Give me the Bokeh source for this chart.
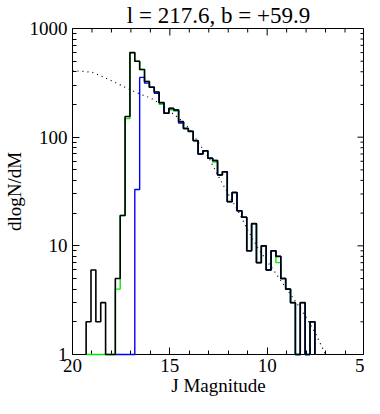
import numpy as np
from bokeh.plotting import figure
from bokeh.models import Range1d, FixedTicker, PrintfTickFormatter, Title
from bokeh.embed import file_html
from bokeh.resources import INLINE

# ---- data ----
title_text = "l = 217.6, b = +59.9"
x_label = "J Magnitude"
y_label = "dlogN/dM"
x_ticks = [20, 15, 10, 5]
y_ticks = [1, 10, 100, 1000]

bin_faint_edge = 19.30
bin_width = 0.25

# black histogram (all sources), faint -> bright
black_counts = [2, 6, 2, 3, 0, 0, 5, 19, 155, 600, 500, 420, 325, 288, 260, 208,
                166, 184, 178, 139, 120, 113, 93, 70, 75, 64, 61, 45, 48, 25.5, 31,
                21, 18.3, 9, 16, 7, 10, 6, 9, 8, 5, 4, 3, 0, 3, 0, 2]
# blue histogram, starts at bin index 6
blue_start = 6
blue_counts = [0, 0, 0, 0, 33, 355, 314, 288, 253, 208, 166, 184, 178, 135, 120,
               113, 93, 70, 75, 64, 61, 45, 48, 25.5, 31, 21, 18.3, 9, 16, 7, 10,
               6, 9, 8, 5, 4, 3, 0, 3, 0, 2]
# green histogram
green_counts = [0, 0, 0, 0, 0, 0, 4, 19, 148, 600, 500, 420, 325, 288, 260, 201,
                166, 179, 174, 139, 120, 113, 93, 70, 75, 64, 59, 45, 48, 25.5, 31,
                21, 18.3, 9, 16, 7, 10, 6, 9, 7, 5, 4, 3, 0, 3, 0, 2]
# dotted model curve
model_mag = [20, 19.5, 19, 18.5, 18, 17.5, 17, 16.5, 16, 15.5, 15, 14.5, 14, 13.5,
             13, 12.5, 12, 11.5, 11, 10.5, 10, 9.5, 9, 8.5, 8, 7.5, 7]
model_val = [409, 404, 396, 364, 331, 300, 271, 248, 230, 203, 173, 148, 120, 87.5,
             65, 43.5, 30, 21, 14, 9.7, 7.2, 5.4, 4.0, 3.0, 2.2, 1.54, 1.0]

X_START, X_END = 20, 5
Y_START, Y_END = 1, 1000
FLOOR = Y_START  # zero counts are drawn on the bottom axis


def step_path(edges, counts):
    xs, ys = [edges[0]], [FLOOR]
    for i, c in enumerate(counts):
        v = max(c, FLOOR)
        xs += [edges[i], edges[i + 1]]
        ys += [v, v]
    xs.append(edges[len(counts)])
    ys.append(FLOOR)
    return xs, ys


edges = bin_faint_edge - bin_width * np.arange(len(black_counts) + 1)

FONT = "Liberation Serif"

p = figure(width=364, height=398, x_range=Range1d(X_START, X_END),
           y_range=Range1d(Y_START, Y_END),
           y_axis_type="log", output_backend="svg", toolbar_location=None,
           min_border_right=0, min_border_top=0, min_border_left=0, min_border_bottom=0)
p.min_border = 0
p.title = Title(text=title_text, align="center", text_font=FONT, standoff=1,
                text_font_size="23px", text_font_style="normal", text_color="black")
p.outline_line_color = "black"
p.outline_line_width = 1
p.grid.visible = False
p.background_fill_color = "white"
p.border_fill_color = "white"

x_minor = [m for m in range(5, 21) if m not in x_ticks]
y_minor = [k * 10 ** d for d in range(0, 3) for k in range(2, 10)]

xt = FixedTicker(ticks=x_ticks, minor_ticks=x_minor)
yt = FixedTicker(ticks=y_ticks, minor_ticks=y_minor)

for ax in (p.xaxis[0], p.yaxis[0]):
    ax.major_tick_in = 7
    ax.major_tick_out = 0
    ax.minor_tick_in = 4
    ax.minor_tick_out = 0
    ax.axis_line_color = None
    ax.major_tick_line_color = "black"
    ax.minor_tick_line_color = "black"
    ax.major_label_text_font = FONT
    ax.major_label_text_color = "black"
    ax.major_label_text_font_size = "19px"
    ax.axis_label_text_font = FONT
    ax.axis_label_text_font_style = "normal"
    ax.axis_label_text_color = "black"
    ax.axis_label_text_font_size = "19px"

xa = p.xaxis[0]
xa.ticker = xt
xa.axis_label = x_label
xa.axis_label_standoff = 0
xa.major_label_standoff = 4

ya = p.yaxis[0]
ya.ticker = yt
ya.formatter = PrintfTickFormatter(format="%d")
ya.axis_label = y_label
ya.axis_label_standoff = 2
ya.major_label_standoff = 5

# ticks on the top and right edges (half of each dash is clipped by the frame)
p.scatter(x_ticks, [Y_END] * len(x_ticks), marker="dash", angle=np.pi / 2,
          size=14, line_color="black", line_width=1)
p.scatter(x_minor, [Y_END] * len(x_minor), marker="dash", angle=np.pi / 2,
          size=8, line_color="black", line_width=1)
p.scatter([X_END] * len(y_ticks), y_ticks, marker="dash", size=14,
          line_color="black", line_width=1)
p.scatter([X_END] * len(y_minor), y_minor, marker="dash", size=8,
          line_color="black", line_width=1)

gx, gy = step_path(edges, green_counts)
p.line(gx, gy, line_color="#00ee00", line_width=1.4, level="overlay")
be = edges[blue_start:blue_start + len(blue_counts) + 1]
bx, by = step_path(be, blue_counts)
p.line(bx, by, line_color="#0000ff", line_width=1.4, level="overlay")
kx, ky = step_path(edges, black_counts)
p.line(kx, ky, line_color="black", line_width=1.6, level="overlay")

p.line(model_mag, model_val, line_color="black", line_width=1.2, line_dash="1 4")

open("out.html", "w").write(file_html(p, INLINE))
